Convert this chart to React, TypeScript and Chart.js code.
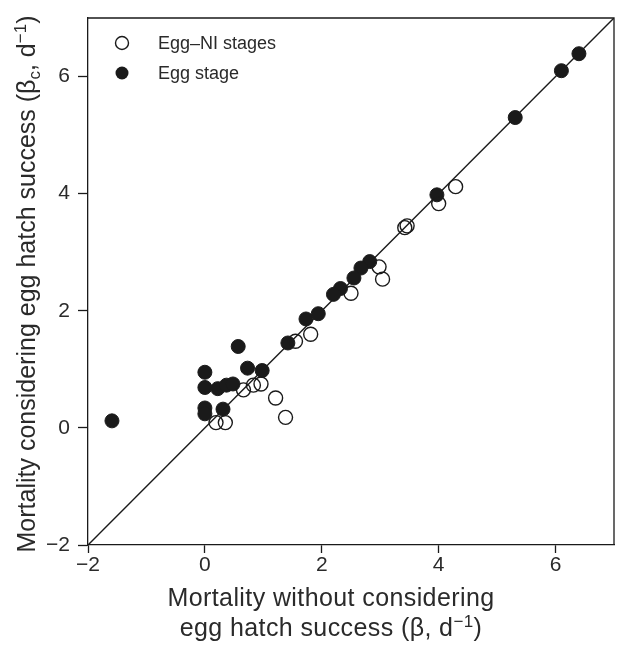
import React, { useEffect, useRef } from "react";
import { Chart, registerables } from "chart.js";

Chart.register(...registerables);

// Axis range and tick positions (same for both axes)
const AXIS_MIN = -2;
const AXIS_MAX = 7;
const TICK_VALUES = [-2, 0, 2, 4, 6];

// Egg stage (filled circles)
const eggX = [6.4, 6.1, 5.31, 3.97, 2.82, 2.67, 2.55, 2.32, 2.2, 1.94, 1.73, 1.42, 0.57, 0.73, 0.98, 0.0, 0.0, 0.22, 0.37, 0.48, 0.31, 0.0, 0.0, -1.59];
const eggY = [6.39, 6.1, 5.3, 3.98, 2.84, 2.73, 2.56, 2.38, 2.28, 1.95, 1.86, 1.45, 1.39, 1.02, 0.98, 0.95, 0.69, 0.67, 0.73, 0.75, 0.32, 0.34, 0.24, 0.12];

// Egg–NI stages (open circles)
const eggNIX = [4.29, 4.0, 3.42, 3.46, 2.98, 3.04, 2.5, 1.81, 1.55, 0.66, 0.83, 0.96, 1.21, 1.38, 0.19, 0.35];
const eggNIY = [4.12, 3.83, 3.42, 3.45, 2.75, 2.54, 2.3, 1.6, 1.48, 0.65, 0.73, 0.75, 0.51, 0.18, 0.09, 0.09];

const LEGEND_LABELS = ["Egg\u2013NI stages", "Egg stage"];

const FONT = "'Liberation Sans', Arial, Helvetica, sans-serif";
const INK = "#1a1a1a";
const TEXT = "#2a2a2a";

type Seg = { t: string; mode?: "sub" | "sup" };

// Draws a run of text segments with sub/superscripts, centred horizontally on the origin,
// with the baseline on y = 0
function drawRich(ctx: CanvasRenderingContext2D, segs: Seg[], size: number, spacing = 0) {
  const small = Math.round(size * 0.66);
  (ctx as any).letterSpacing = `${spacing}px`;
  const widths = segs.map((s) => {
    ctx.font = `${s.mode ? small : size}px ${FONT}`;
    return ctx.measureText(s.t).width;
  });
  const total = widths.reduce((a, b) => a + b, 0);
  let x = -total / 2;
  ctx.textBaseline = "alphabetic";
  ctx.textAlign = "left";
  segs.forEach((s, i) => {
    ctx.font = `${s.mode ? small : size}px ${FONT}`;
    let dy = 0;
    if (s.mode === "sub") dy = size * 0.2;
    if (s.mode === "sup") dy = -size * 0.38;
    ctx.fillText(s.t, x, dy);
    x += widths[i];
  });
  (ctx as any).letterSpacing = "0px";
}

const decorPlugin = {
  id: "decor",
  afterDatasetsDraw(chart: any) {
    const { ctx, chartArea } = chart;
    const { left, right, top, bottom } = chartArea;
    ctx.save();
    // frame (top and right sides; left and bottom come from the axes)
    ctx.strokeStyle = INK;
    ctx.lineWidth = 1.3;
    ctx.beginPath();
    ctx.moveTo(left, top);
    ctx.lineTo(right, top);
    ctx.lineTo(right, bottom);
    ctx.stroke();

    // legend
    const items = [
      { label: LEGEND_LABELS[0], filled: false },
      { label: LEGEND_LABELS[1], filled: true },
    ];
    items.forEach((it, i) => {
      const cy = 43 + i * 30;
      ctx.beginPath();
      ctx.arc(122, cy, 6.5, 0, Math.PI * 2);
      if (it.filled) {
        ctx.fillStyle = INK;
        ctx.fill();
      } else {
        ctx.lineWidth = 1.4;
        ctx.strokeStyle = INK;
        ctx.stroke();
      }
      ctx.fillStyle = TEXT;
      ctx.font = `18px ${FONT}`;
      ctx.textAlign = "left";
      ctx.textBaseline = "middle";
      ctx.fillText(it.label, 158, cy + 1);
    });

    // axis titles
    ctx.fillStyle = TEXT;
    ctx.save();
    ctx.translate(331, 606);
    drawRich(ctx, [{ t: "Mortality without considering" }], 25, 0.4);
    ctx.restore();
    ctx.save();
    ctx.translate(331, 636);
    drawRich(ctx, [{ t: "egg hatch success (\u03b2, d" }, { t: "\u22121", mode: "sup" }, { t: ")" }], 25, 0.4);
    ctx.restore();
    ctx.save();
    ctx.translate(35, 284);
    ctx.rotate(-Math.PI / 2);
    drawRich(
      ctx,
      [
        { t: "Mortality considering egg hatch success (\u03b2" },
        { t: "c", mode: "sub" },
        { t: ", d" },
        { t: "\u22121", mode: "sup" },
        { t: ")" },
      ],
      25
    );
    ctx.restore();
    ctx.restore();
  },
};

const fmt = (v: number) => String(v).replace("-", "\u2212");

export default function App() {
  const ref = useRef<HTMLCanvasElement | null>(null);

  useEffect(() => {
    if (!ref.current) return;
    const axisCommon = {
      type: "linear" as const,
      min: AXIS_MIN,
      max: AXIS_MAX,
      afterBuildTicks: (scale: any) => {
        scale.ticks = TICK_VALUES.map((v) => ({ value: v }));
      },
      border: { display: true, color: INK, width: 1.3 },
      title: { display: false },
    };

    const chart = new Chart(ref.current, {
      type: "scatter",
      data: {
        datasets: [
          {
            type: "line",
            label: "1:1",
            data: [
              { x: AXIS_MIN, y: AXIS_MIN },
              { x: AXIS_MAX, y: AXIS_MAX },
            ],
            borderColor: INK,
            borderWidth: 1.4,
            pointRadius: 0,
            fill: false,
            order: 3,
          },
          {
            label: LEGEND_LABELS[1],
            data: eggX.map((x, i) => ({ x, y: eggY[i] })),
            backgroundColor: INK,
            borderColor: INK,
            borderWidth: 1,
            pointRadius: 7,
            order: 2,
          },
          {
            label: LEGEND_LABELS[0],
            data: eggNIX.map((x, i) => ({ x, y: eggNIY[i] })),
            backgroundColor: "rgba(0,0,0,0)",
            borderColor: INK,
            borderWidth: 1.4,
            pointRadius: 7,
            order: 1,
          },
        ] as any,
      },
      options: {
        animation: false,
        responsive: false,
        maintainAspectRatio: false,
        layout: { autoPadding: false, padding: { left: 0, right: 3, top: 18, bottom: 0 } },
        plugins: { legend: { display: false }, tooltip: { enabled: false } },
        scales: {
          x: {
            ...axisCommon,
            position: "bottom",
            afterFit: (scale: any) => {
              scale.height = 100;
              scale.paddingLeft = 0;
              scale.paddingRight = 0;
            },
            grid: {
              display: true,
              drawOnChartArea: false,
              drawTicks: true,
              tickLength: 8,
              tickWidth: 1.3,
              tickColor: INK,
            },
            ticks: {
              color: TEXT,
              font: { size: 21, family: FONT },
              padding: 0,
              callback: (v: any) => fmt(v),
            },
          },
          y: {
            ...axisCommon,
            position: "left",
            afterFit: (scale: any) => {
              scale.width = 88;
              scale.paddingTop = 0;
              scale.paddingBottom = 0;
            },
            grid: {
              display: true,
              drawOnChartArea: false,
              drawTicks: true,
              tickLength: 10,
              tickWidth: 1.3,
              tickColor: INK,
            },
            ticks: {
              color: TEXT,
              font: { size: 21, family: FONT },
              padding: 8,
              callback: (v: any) => fmt(v),
            },
          },
        } as any,
      },
      plugins: [decorPlugin],
    });
    return () => chart.destroy();
  }, []);

  return (
    <canvas
      ref={ref}
      width={617}
      height={645}
      style={{ position: "fixed", left: 0, top: 0, width: 617, height: 645, background: "#fff" }}
    />
  );
}
